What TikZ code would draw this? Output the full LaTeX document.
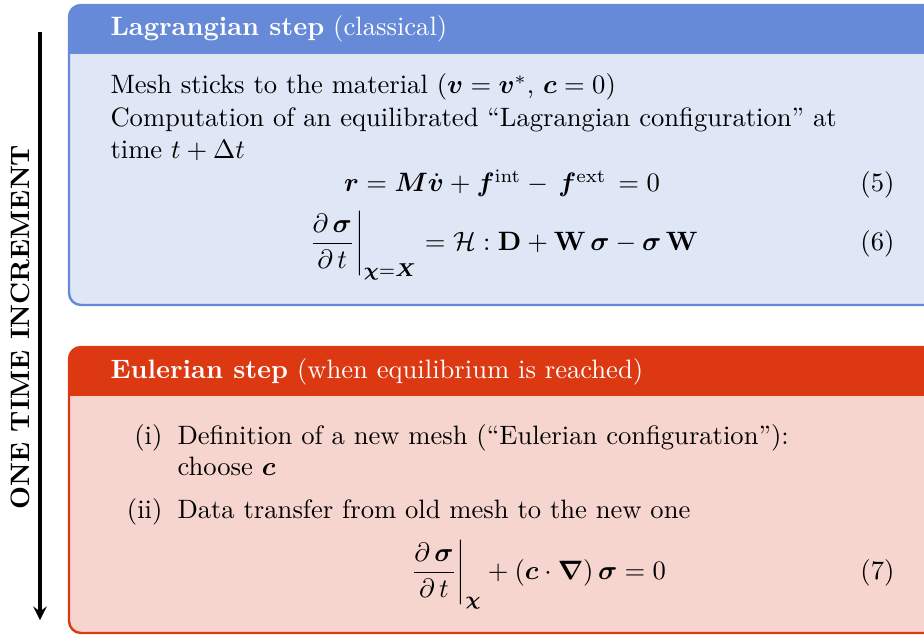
\documentclass[tikz,border=0pt]{standalone}
\usepackage{amsmath}
\usepackage{bm}

\definecolor{lagframe}{HTML}{678AD8}
\definecolor{lagback}{HTML}{DFE6F6}
\definecolor{eulframe}{HTML}{DC3812}
\definecolor{eulback}{HTML}{F7D5CF}

\begin{document}
\begin{tikzpicture}[
    x=0.376pt, y=-0.376pt,
    boxframe/.style  = {line width=0.9pt, rounded corners=4.5pt},
    boxtitle/.style  = {anchor=base west, inner sep=0pt, text=white},
    bodyline/.style  = {anchor=base west, inner sep=0pt},
    itemlbl/.style   = {anchor=base east, inner sep=0pt},
    eqn/.style       = {anchor=base, inner sep=0pt},
    eqtag/.style     = {anchor=base east, inner sep=0pt},
    timearrow/.style = {->, >=stealth, line width=1.2pt},
]
\path[use as bounding box, clip] (0,0) rectangle (924,635);

% ============================================================
%  TIME ARROW  –  left margin, pointing down
% ============================================================
\coordinate (arrtop) at (40, 32);
\coordinate (arrbot) at (40, 620);
\draw[timearrow] (arrtop) -- (arrbot);
\node[rotate=90, font=\bfseries] (arrlabel) at (20, 327) {ONE TIME INCREMENT};

% ============================================================
%  LAGRANGIAN BOX  –  top, blue
% ============================================================
\begin{scope}
  \clip[rounded corners=4.5pt] (69, 5) rectangle (980, 305);
  \fill[lagback]  (69, 5) rectangle (980, 305);
  \fill[lagframe] (69, 5) rectangle (980, 54);
\end{scope}
\draw[boxframe, draw=lagframe] (69, 5) rectangle (980, 305);

\node[boxtitle] (lagtitle) at (110, 36) {\textbf{Lagrangian step} (classical)};

\node[bodyline] (lagmesh) at (110, 94)
    {Mesh sticks to the material ($\bm{v} = \bm{v}^{*}$, $\bm{c} = 0$)};
\node[bodyline] (lagcomp) at (110, 126.5)
    {Computation of an equilibrated ``Lagrangian configuration'' at};
\node[bodyline] (lagtime) at (110, 159) {time $t + \Delta t$};

% equation (5)
\node[eqn] (eqfive) at (502, 192)
    {$\bm{r} = \bm{M}\dot{\bm{v}} + \bm{f}^{\mathrm{int}} -\, \bm{f}^{\mathrm{ext}}\, = 0$};
\node[eqtag] (tagfive) at (895, 192) {(5)};

% equation (6)
\node[eqn] (eqsix) at (502, 250)
    {$\displaystyle \left.\frac{\partial\,\bm{\sigma}}{\partial\,t}\right|_{\bm{\chi}=\bm{X}}
      = \mathcal{H} : \mathbf{D} + \mathbf{W}\,\bm{\sigma} - \bm{\sigma}\,\mathbf{W}$};
\node[eqtag] (tagsix) at (895, 250) {(6)};

% ============================================================
%  EULERIAN BOX  –  bottom, red
% ============================================================
\begin{scope}
  \clip[rounded corners=4.5pt] (69, 347) rectangle (980, 633);
  \fill[eulback]  (69, 347) rectangle (980, 633);
  \fill[eulframe] (69, 347) rectangle (980, 396);
\end{scope}
\draw[boxframe, draw=eulframe] (69, 347) rectangle (980, 633);

\node[boxtitle] (eultitle) at (110, 378)
    {\textbf{Eulerian step} (when equilibrium is reached)};

% item (i)
\node[itemlbl]  (itemone)  at (163, 444) {(i)};
\node[bodyline] (eulmesh)  at (177, 444)
    {Definition of a new mesh (``Eulerian configuration''):};
\node[bodyline] (eulchoose) at (177, 475) {choose $\bm{c}$};

% item (ii)
\node[itemlbl]  (itemtwo)  at (163, 518) {(ii)};
\node[bodyline] (eulxfer)  at (177, 518) {Data transfer from old mesh to the new one};

% equation (7)
\node[eqn] (eqseven) at (537, 579)
    {$\displaystyle \left.\frac{\partial\,\bm{\sigma}}{\partial\,t}\right|_{\bm{\chi}}
      + (\bm{c}\cdot\bm{\nabla})\,\bm{\sigma} = 0$};
\node[eqtag] (tagseven) at (895, 579) {(7)};

\end{tikzpicture}
\end{document}
